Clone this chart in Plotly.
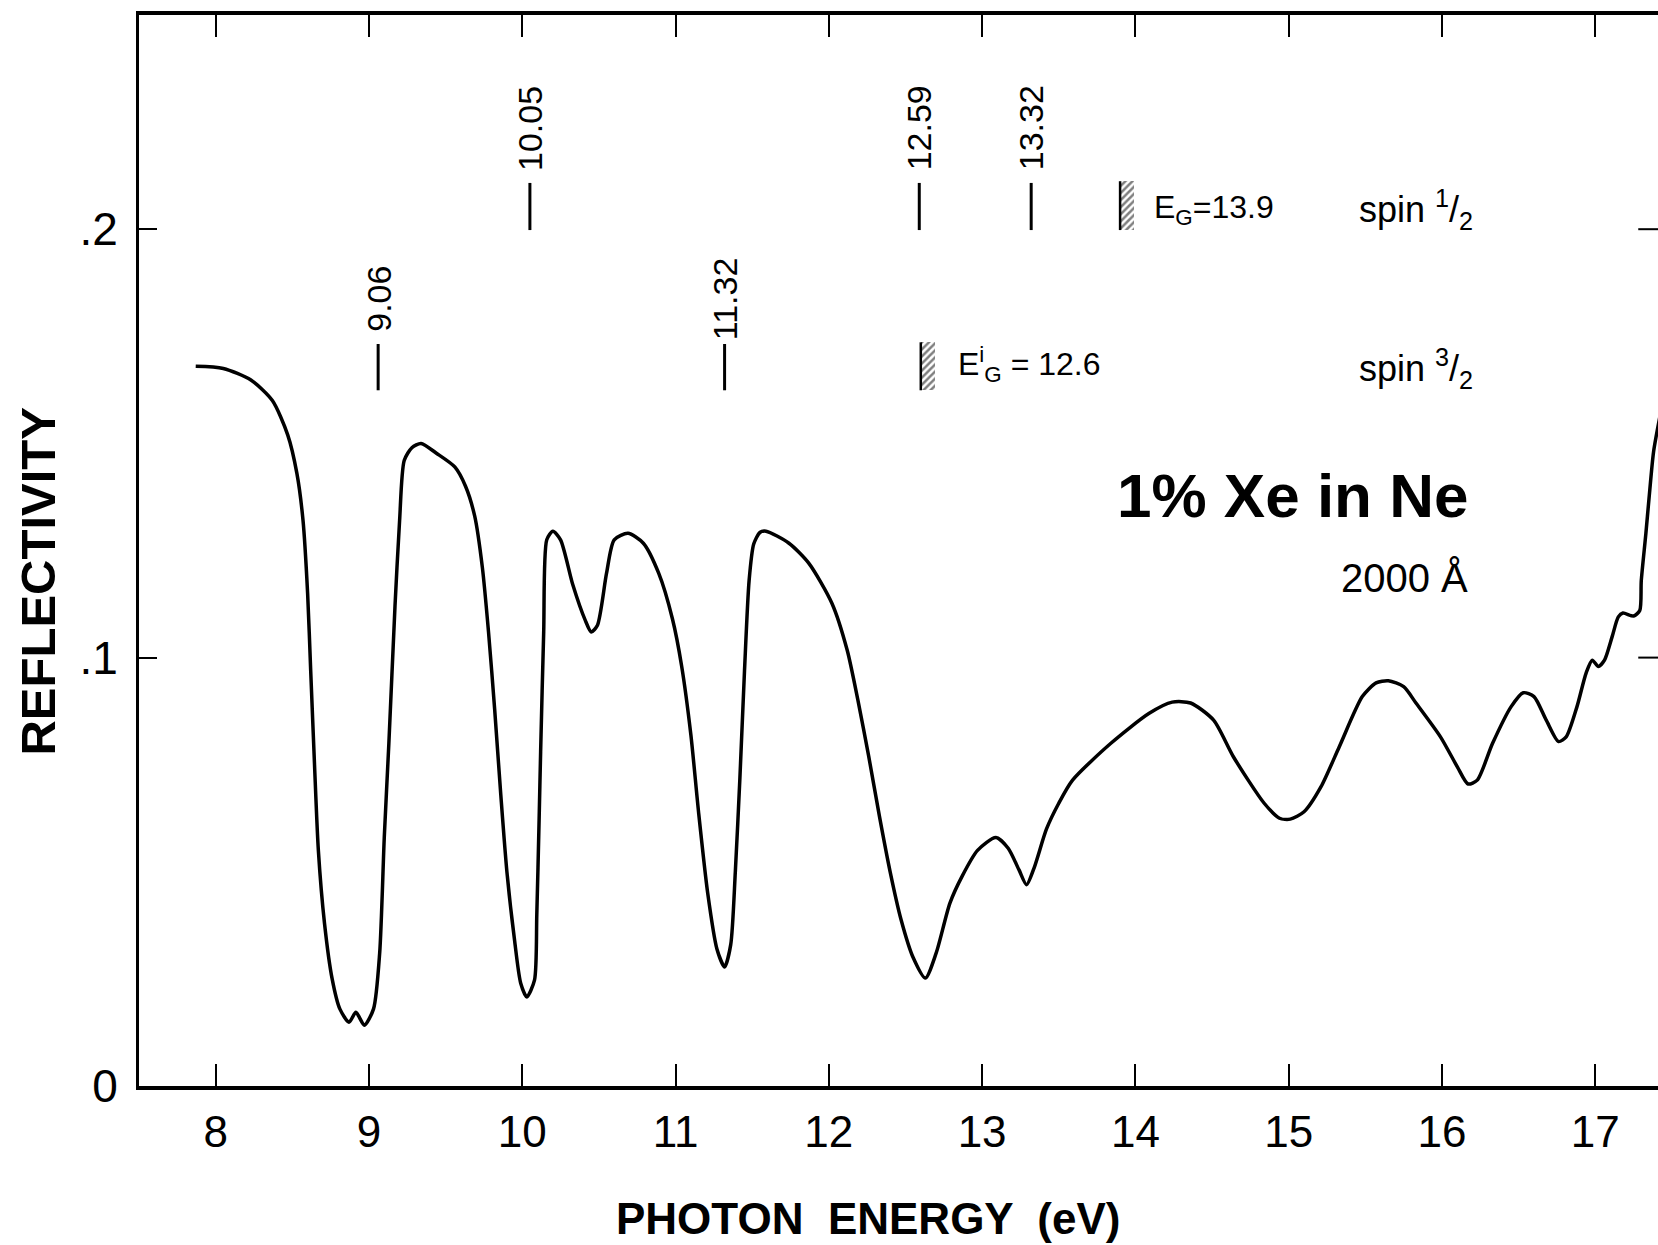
import plotly.graph_objects as go

# Reflectivity spectrum of 1% Xe in Ne (2000 Å film)
energy_ev = [
    7.87, 8.05, 8.23, 8.37, 8.47, 8.53, 8.57, 8.60, 8.62, 8.645, 8.67, 8.71, 8.76, 8.81,
    8.87, 8.915, 8.97, 9.03, 9.07, 9.10, 9.13, 9.17, 9.20, 9.23, 9.28, 9.34, 9.44, 9.56,
    9.63, 9.69, 9.74, 9.78, 9.82, 9.86, 9.90, 9.95, 9.99, 10.03, 10.08, 10.095, 10.11,
    10.12, 10.14, 10.16, 10.20, 10.25, 10.33, 10.41, 10.45, 10.49, 10.55, 10.60, 10.69,
    10.79, 10.89, 10.98, 11.04, 11.10, 11.15, 11.21, 11.27, 11.32, 11.36, 11.39, 11.42,
    11.45, 11.48, 11.51, 11.55, 11.59, 11.74, 11.87, 12.02, 12.12, 12.19, 12.26, 12.33,
    12.40, 12.47, 12.55, 12.63, 12.70, 12.79, 12.87, 12.97, 13.09, 13.17, 13.24, 13.29,
    13.34, 13.42, 13.50, 13.59, 13.84, 14.09, 14.24, 14.36, 14.51, 14.64, 14.84, 14.94,
    15.01, 15.10, 15.21, 15.33, 15.48, 15.57, 15.65, 15.75, 15.83, 15.99, 16.10, 16.17,
    16.23, 16.33, 16.45, 16.53, 16.60, 16.68, 16.76, 16.81, 16.88, 16.94, 16.98, 17.02,
    17.06, 17.11, 17.15, 17.18, 17.25, 17.29, 17.30, 17.33, 17.35, 17.38, 17.42,
]
reflectivity = [
    0.168, 0.1675, 0.1648, 0.160, 0.152, 0.143, 0.132, 0.115, 0.097, 0.075, 0.055, 0.038,
    0.025, 0.018, 0.0149, 0.0172, 0.0142, 0.018, 0.031, 0.058, 0.080, 0.112, 0.132, 0.146,
    0.149, 0.150, 0.1477, 0.1445, 0.140, 0.133, 0.121, 0.106, 0.088, 0.068, 0.050, 0.034,
    0.024, 0.0208, 0.0247, 0.040, 0.062, 0.078, 0.106, 0.1275, 0.1295, 0.1275, 0.117,
    0.1088, 0.106, 0.1075, 0.1197, 0.1275, 0.129, 0.1267, 0.1197, 0.109, 0.098, 0.082,
    0.064, 0.045, 0.032, 0.0278, 0.033, 0.050, 0.072, 0.097, 0.118, 0.1265, 0.1292,
    0.1295, 0.1267, 0.122, 0.1127, 0.1017, 0.090, 0.077, 0.063, 0.050, 0.039, 0.030,
    0.0252, 0.031, 0.0427, 0.049, 0.055, 0.058, 0.0555, 0.0505, 0.047, 0.051, 0.060,
    0.066, 0.0714, 0.080, 0.087, 0.0896, 0.0894, 0.0854, 0.0768, 0.066, 0.0625, 0.0623,
    0.064, 0.0698, 0.0792, 0.0909, 0.0941, 0.0946, 0.0932, 0.0894, 0.0815, 0.0745,
    0.0705, 0.0714, 0.080, 0.0885, 0.0918, 0.0909, 0.0854, 0.0804, 0.0815, 0.0885,
    0.0964, 0.0994, 0.0979, 0.0994, 0.1049, 0.1095, 0.1104, 0.1097, 0.111, 0.118, 0.129,
    0.137, 0.148, 0.156,
]

# Exciton peak positions (eV); upper row = spin 1/2 series, lower row = spin 3/2 series
peaks_upper = [10.05, 12.59, 13.32]
peaks_lower = [9.06, 11.32]
# Band gaps (eV)
gap_upper = 13.9
gap_lower = 12.6

x_ticks = [8, 9, 10, 11, 12, 13, 14, 15, 16, 17]
y_ticks = [0, 0.1, 0.2]
y_ticktext = ["0", ".1", ".2"]

SANS = "Liberation Sans, Arial, Roboto, sans-serif"

fig = go.Figure()

fig.add_trace(go.Scatter(
    x=energy_ev, y=reflectivity, mode="lines",
    line=dict(color="black", width=3.5, shape="spline", smoothing=0.7),
    showlegend=False, hoverinfo="skip",
))

# hatched band-gap markers
row_lo = {"upper": 0.1998, "lower": 0.1624}
row_hi = {"upper": 0.2112, "lower": 0.1736}
gap_w = 0.09
for gap, row in ((gap_upper, "upper"), (gap_lower, "lower")):
    fig.add_trace(go.Bar(
        x=[gap + gap_w / 2], y=[row_hi[row] - row_lo[row]], base=[row_lo[row]],
        width=[gap_w],
        marker=dict(color="white", line=dict(width=0),
                    pattern=dict(shape="/", fgcolor="black", bgcolor="white",
                                 size=5, solidity=0.5)),
        showlegend=False, hoverinfo="skip",
    ))
    fig.add_shape(type="line", x0=gap, x1=gap, y0=row_lo[row], y1=row_hi[row],
                  line=dict(color="black", width=2.5))

annotations = []
# peak position bars and rotated labels
label_y = {"upper": 0.2236, "lower": 0.1838}
for row, peaks in (("upper", peaks_upper), ("lower", peaks_lower)):
    for e in peaks:
        fig.add_shape(type="line", x0=e, x1=e, y0=row_lo[row], y1=row_hi[row] - 0.0004,
                      line=dict(color="black", width=3))
        annotations.append(dict(
            x=e, y=label_y[row], text=f"{e:.2f}", textangle=-90, showarrow=False,
            xanchor="center", yanchor="middle",
            font=dict(family=SANS, size=34, color="black"),
        ))

annotations += [
    dict(x=14.11, y=0.2045, text="E<sub>G</sub>=13.9", xanchor="left", yanchor="middle",
         showarrow=False, font=dict(family=SANS, size=32, color="black")),
    dict(x=12.83, y=0.1685, text="E<sup>i</sup><sub>G</sub> = 12.6", xanchor="left",
         yanchor="middle", showarrow=False, font=dict(family=SANS, size=32, color="black")),
    dict(x=15.445, y=0.2045, text="spin <sup>1</sup>/<sub>2</sub>", xanchor="left",
         yanchor="middle", showarrow=False, font=dict(family=SANS, size=36, color="black")),
    dict(x=15.445, y=0.1676, text="spin <sup>3</sup>/<sub>2</sub>", xanchor="left",
         yanchor="middle", showarrow=False, font=dict(family=SANS, size=36, color="black")),
    dict(x=16.18, y=0.1378, text="<b>1% Xe in Ne</b>", xanchor="right", yanchor="middle",
         showarrow=False, font=dict(family=SANS, size=62, color="black")),
    dict(x=16.18, y=0.1185, text="2000 Å", xanchor="right", yanchor="middle",
         showarrow=False, font=dict(family=SANS, size=40, color="black")),
    # axis titles
    dict(x=0.48, y=-0.124, xref="paper", yref="paper", text="<b>PHOTON  ENERGY  (eV)</b>",
         xanchor="center", yanchor="middle", showarrow=False,
         font=dict(family=SANS, size=44, color="black")),
    dict(x=-0.0665, y=0.471, xref="paper", yref="paper", text="<b>REFLECTIVITY</b>",
         textangle=-90, xanchor="center", yanchor="middle", showarrow=False,
         font=dict(family=SANS, size=49, color="black")),
]

# inward ticks on the right-hand frame edge
for yv in (0.1, 0.2):
    fig.add_shape(type="line", xref="paper", yref="y", x0=0.987, x1=1.0, y0=yv, y1=yv,
                  line=dict(color="black", width=2))

fig.update_layout(
    width=1658, height=1245,
    margin=dict(l=139, r=0, t=15, b=159),
    paper_bgcolor="white", plot_bgcolor="white",
    annotations=annotations,
    bargap=0,
    showlegend=False,
)
fig.update_xaxes(
    range=[7.5, 17.409], tickvals=x_ticks, ticktext=[str(t) for t in x_ticks],
    showline=True, linecolor="black", linewidth=3.5, mirror="ticks",
    ticks="inside", ticklen=22, tickwidth=2, tickcolor="black",
    showgrid=False, zeroline=False,
    tickfont=dict(family=SANS, size=44, color="black"), ticklabelstandoff=4,
)
fig.update_yaxes(
    range=[0, 0.25], tickvals=y_ticks, ticktext=y_ticktext,
    showline=True, linecolor="black", linewidth=3, mirror=False,
    ticks="inside", ticklen=18, tickwidth=2, tickcolor="black",
    showgrid=False, zeroline=False,
    tickfont=dict(family=SANS, size=46, color="black"), ticklabelstandoff=9,
)

fig.write_html("out.html")
